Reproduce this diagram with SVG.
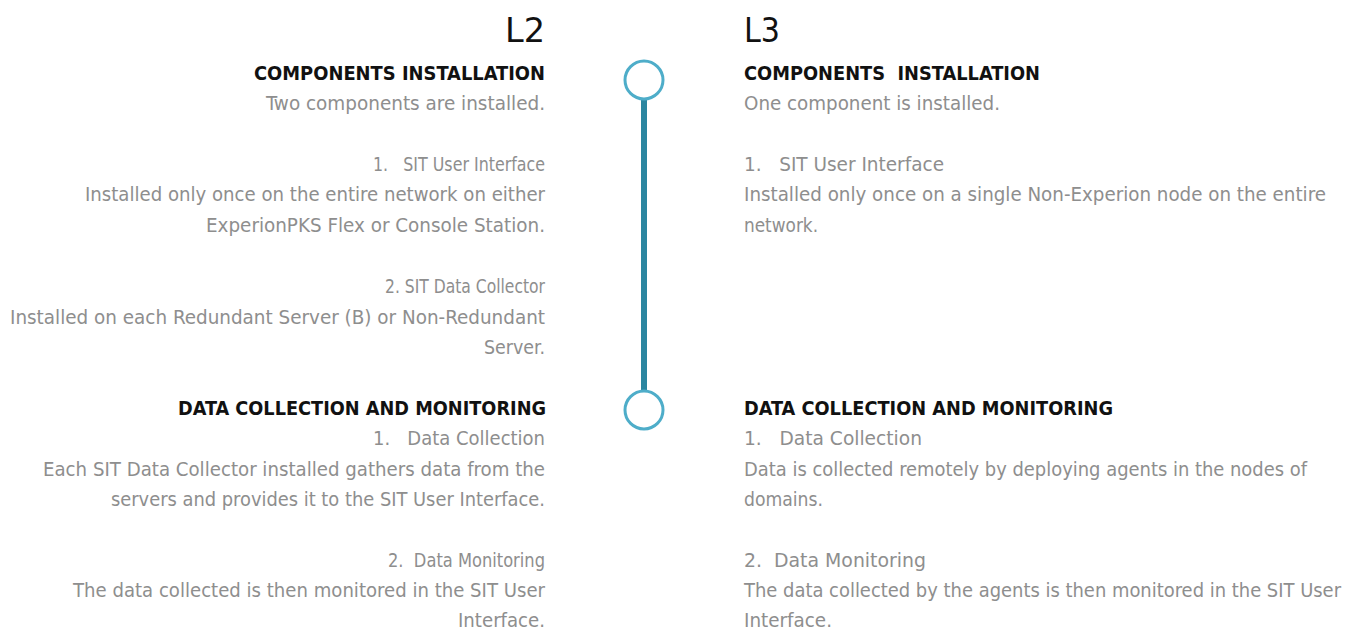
<svg xmlns="http://www.w3.org/2000/svg" width="1356" height="630" viewBox="0 0 1356 630">
<style>
text{font-family:"DejaVu Sans Condensed","Liberation Sans Narrow","Liberation Sans",sans-serif;white-space:pre}
.t{font-size:33px;fill:#111}
.h{font-size:19px;font-weight:bold;fill:#111}
.b{font-size:19.5px;fill:#8e8e8e}
.l{text-anchor:end}
.ring{fill:#fff;stroke:#4eadc9;stroke-width:3}
.bar{stroke:#2b86a0;stroke-width:6}
</style>
<rect width="1356" height="630" fill="#fff"/>
<g id="connectors">
<line class="bar" x1="644" y1="99" x2="644" y2="392"/>
</g>
<g id="node-top"><circle class="ring" cx="644" cy="80" r="19"/></g>
<g id="node-bottom"><circle class="ring" cx="644" cy="410" r="19"/></g>
<g id="l2">
<text class="t l" x="545" y="42" textLength="40" lengthAdjust="spacingAndGlyphs">L2</text>
<text class="h l" x="545" y="80" textLength="291" lengthAdjust="spacingAndGlyphs">COMPONENTS INSTALLATION</text>
<text class="b l" x="545" y="110" textLength="279" lengthAdjust="spacingAndGlyphs">Two components are installed.</text>
<text class="b l" x="545" y="171" textLength="172" lengthAdjust="spacingAndGlyphs">1.   SIT User Interface</text>
<text class="b l" x="545" y="201" textLength="460" lengthAdjust="spacingAndGlyphs">Installed only once on the entire network on either</text>
<text class="b l" x="545" y="232" textLength="339" lengthAdjust="spacingAndGlyphs">ExperionPKS Flex or Console Station.</text>
<text class="b l" x="545" y="293" textLength="160" lengthAdjust="spacingAndGlyphs">2. SIT Data Collector</text>
<text class="b l" x="545" y="324" textLength="535" lengthAdjust="spacingAndGlyphs">Installed on each Redundant Server (B) or Non-Redundant</text>
<text class="b l" x="545" y="354" textLength="61" lengthAdjust="spacingAndGlyphs">Server.</text>
<text class="h l" x="546" y="415" textLength="368" lengthAdjust="spacingAndGlyphs">DATA COLLECTION AND MONITORING</text>
<text class="b l" x="545" y="445" textLength="172" lengthAdjust="spacingAndGlyphs">1.   Data Collection</text>
<text class="b l" x="545" y="476" textLength="502" lengthAdjust="spacingAndGlyphs">Each SIT Data Collector installed gathers data from the</text>
<text class="b l" x="545" y="506" textLength="434" lengthAdjust="spacingAndGlyphs">servers and provides it to the SIT User Interface.</text>
<text class="b l" x="545" y="567" textLength="157" lengthAdjust="spacingAndGlyphs">2.  Data Monitoring</text>
<text class="b l" x="545" y="597" textLength="472" lengthAdjust="spacingAndGlyphs">The data collected is then monitored in the SIT User</text>
<text class="b l" x="545" y="627" textLength="87" lengthAdjust="spacingAndGlyphs">Interface.</text>
</g>
<g id="l3">
<text class="t" x="744" y="42" textLength="36" lengthAdjust="spacingAndGlyphs">L3</text>
<text class="h" x="744" y="80" textLength="296" lengthAdjust="spacingAndGlyphs">COMPONENTS  INSTALLATION</text>
<text class="b" x="744" y="110" textLength="256" lengthAdjust="spacingAndGlyphs">One component is installed.</text>
<text class="b" x="744" y="171" textLength="200" lengthAdjust="spacingAndGlyphs">1.   SIT User Interface</text>
<text class="b" x="744" y="201" textLength="582" lengthAdjust="spacingAndGlyphs">Installed only once on a single Non-Experion node on the entire</text>
<text class="b" x="744" y="232" textLength="74" lengthAdjust="spacingAndGlyphs">network.</text>
<text class="h" x="744" y="415" textLength="369" lengthAdjust="spacingAndGlyphs">DATA COLLECTION AND MONITORING</text>
<text class="b" x="744" y="445" textLength="178" lengthAdjust="spacingAndGlyphs">1.   Data Collection</text>
<text class="b" x="744" y="476" textLength="563" lengthAdjust="spacingAndGlyphs">Data is collected remotely by deploying agents in the nodes of</text>
<text class="b" x="744" y="506" textLength="79" lengthAdjust="spacingAndGlyphs">domains.</text>
<text class="b" x="744" y="567" textLength="182" lengthAdjust="spacingAndGlyphs">2.  Data Monitoring</text>
<text class="b" x="744" y="597" textLength="597" lengthAdjust="spacingAndGlyphs">The data collected by the agents is then monitored in the SIT User</text>
<text class="b" x="744" y="627" textLength="88" lengthAdjust="spacingAndGlyphs">Interface.</text>
</g>
</svg>
